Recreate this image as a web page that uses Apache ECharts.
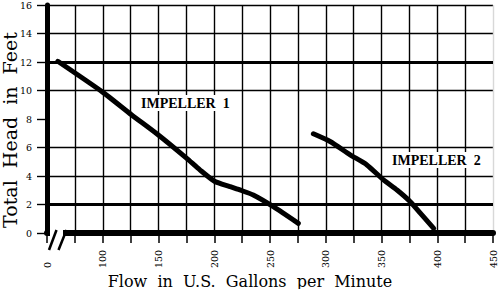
<!DOCTYPE html>
<html><head><meta charset="utf-8">
<script src="https://cdn.jsdelivr.net/npm/echarts@6/dist/echarts.min.js"></script>
<style>html,body{margin:0;padding:0;background:#fff}#c{width:500px;height:289px}</style>
</head><body><div id="c"></div>
<script>
// Impeller curves (flow in US gpm, head in feet)
const impeller1Flow = [59.7, 100.2, 125.7, 149.6, 175.1, 187.1, 200.6, 214, 223, 235, 253, 275.4];
const impeller1Head = [12.05, 9.87, 8.3, 6.89, 5.25, 4.43, 3.61, 3.26, 3.02, 2.67, 1.85, 0.68];
const impeller2Flow = [288.9, 303.9, 321.9, 336.9, 351.8, 363.9, 375.8, 384.8, 396.8];
const impeller2Head = [6.96, 6.42, 5.49, 4.78, 3.73, 3.02, 2.2, 1.39, 0.33];
// Tick labels
const xLabelValues = [50, 100, 150, 200, 250, 300, 350, 400, 450];
const xLabelTexts = ['0', '100', '150', '200', '250', '300', '350', '400', '450'];
const yLabelValues = [0, 2, 4, 6, 8, 10, 12, 14, 16];
const yLabelTexts = ['0', '2', '4', '6', '8', '10', '12', '14', '16'];
const yHeavyLines = [2, 12];
const yMissingGrid = [8];
const curveNames = ['IMPELLER  1', 'IMPELLER  2'];
const xTitle = 'Flow  in  U.S.  Gallons  per  Minute';
const yTitle = 'Total  Head  in  Feet';

const chart = echarts.init(document.getElementById('c'), null, {renderer: 'svg'});
const zip = (a, b) => a.map((v, i) => [v, b[i]]);
const ySplitColors = yLabelValues.map(v => yMissingGrid.includes(v) ? 'rgba(0,0,0,0)' : '#000');
const xSplitColors = [];
for (let v = 50; v <= 450; v += 25) xSplitColors.push(v === 450 ? '#d8d8d8' : '#000');
const serif = 'DejaVu Serif';

chart.setOption({
  animation: false,
  backgroundColor: '#fff',
  grid: {left: 47, right: 7, top: 5, bottom: 56, containLabel: false, outerBoundsMode: 'none'},
  xAxis: {
    type: 'value', min: 50, max: 450, interval: 25,
    axisLine: {show: true, onZero: false, lineStyle: {color: '#000', width: 6}},
    axisTick: {show: true, length: 10, inside: false, lineStyle: {color: '#000', width: 1.5}},
    axisLabel: {
      rotate: 90, align: 'left', verticalAlign: 'middle', margin: 35,
      fontFamily: serif, fontSize: 9.5, color: '#000',
      formatter: v => { const i = xLabelValues.indexOf(v); return i >= 0 ? xLabelTexts[i] : ''; }
    },
    splitLine: {show: true, lineStyle: {color: xSplitColors, width: 1.4}}
  },
  yAxis: {
    type: 'value', min: 0, max: 16, interval: 2,
    axisLine: {show: true, onZero: false, lineStyle: {color: '#000', width: 5}},
    axisTick: {show: true, length: 10, lineStyle: {color: '#000', width: 1.4}},
    axisLabel: {
      margin: 15, fontFamily: serif, fontSize: 9.5, color: '#000',
      formatter: v => { const i = yLabelValues.indexOf(v); return i >= 0 ? yLabelTexts[i] : ''; }
    },
    splitLine: {show: true, lineStyle: {color: ySplitColors, width: 1.4}}
  },
  series: [
    {
      type: 'line', name: curveNames[0], data: zip(impeller1Flow, impeller1Head),
      symbol: 'none', smooth: 0.2,
      lineStyle: {color: '#000', width: 5, cap: 'round', join: 'round'},
      markLine: {
        silent: true, symbol: ['none', 'none'], label: {show: false},
        lineStyle: {color: '#000', width: 3, type: 'solid'},
        data: yHeavyLines.map(v => ({yAxis: v}))
      },
      z: 5
    },
    {
      type: 'line', name: curveNames[1], data: zip(impeller2Flow, impeller2Head),
      symbol: 'none', smooth: 0.2,
      lineStyle: {color: '#000', width: 5, cap: 'round', join: 'round'},
      z: 5
    }
  ]
});

const o = chart.convertToPixel({gridIndex: 0}, [50, 0]);
const x0 = o[0], y0 = o[1];
chart.setOption({
  graphic: [
    {type: 'rect', z: 100, shape: {x: x0 + 3, y: y0 - 4, width: 13, height: 8}, style: {fill: '#fff'}},
    {type: 'line', z: 101, shape: {x1: x0 + 2, y1: y0 + 17, x2: x0 + 9.5, y2: y0 - 3}, style: {stroke: '#000', lineWidth: 2.5}},
    {type: 'line', z: 101, shape: {x1: x0 + 11.5, y1: y0 + 17, x2: x0 + 19.5, y2: y0 - 3}, style: {stroke: '#000', lineWidth: 2.5}},
    {type: 'text', z: 110, x: 250, y: 281, style: {text: xTitle, fill: '#000', font: '16px "DejaVu Serif"', textAlign: 'center', textVerticalAlign: 'middle'}},
    {type: 'text', z: 110, x: 10, y: 130, rotation: Math.PI / 2, style: {text: yTitle, fill: '#000', font: '19px "DejaVu Serif"', textAlign: 'center', textVerticalAlign: 'middle'}},
    {type: 'text', z: 110, x: 139, y: 103, style: {text: curveNames[0], fill: '#000', font: 'bold 14px "Liberation Serif"', textAlign: 'left', textVerticalAlign: 'middle', backgroundColor: '#fff', padding: [1, 2]}},
    {type: 'text', z: 110, x: 390, y: 160, style: {text: curveNames[1], fill: '#000', font: 'bold 14px "Liberation Serif"', textAlign: 'left', textVerticalAlign: 'middle', backgroundColor: '#fff', padding: [1, 2]}}
  ]
});
</script></body></html>
